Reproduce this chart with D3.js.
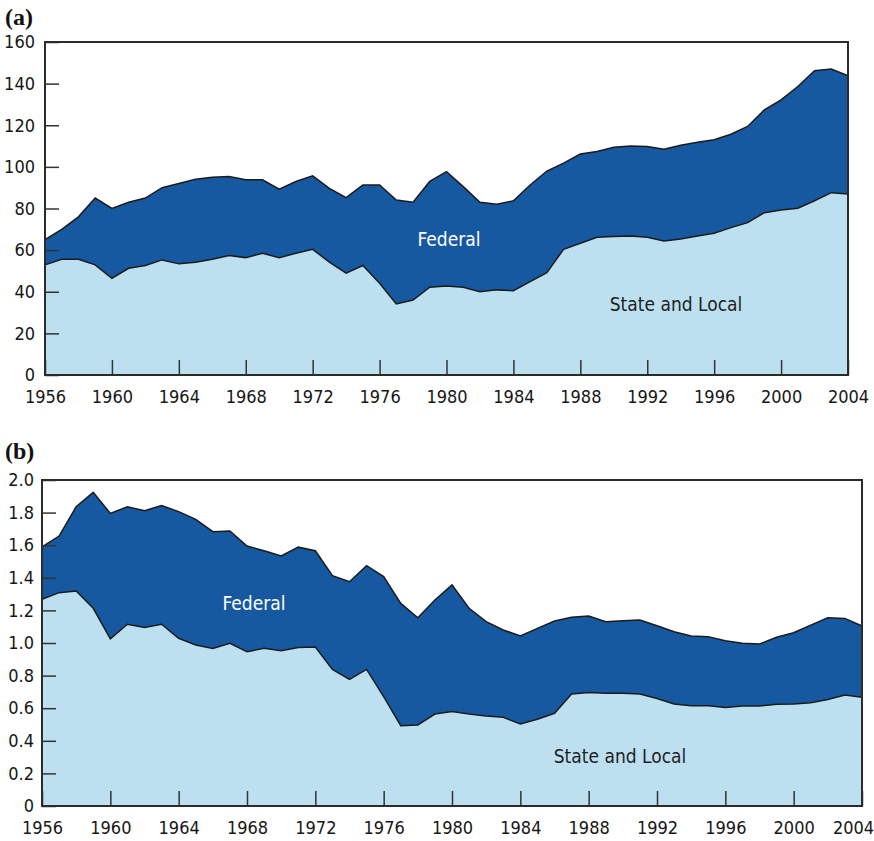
<!DOCTYPE html>
<html>
<head>
<meta charset="utf-8">
<script src="https://cdn.jsdelivr.net/npm/d3@7"></script>
<style>
  body { margin: 0; background: #fff; }
  .tick text { font-family: "Liberation Sans Narrow", "DejaVu Sans Condensed", sans-serif; fill: #161616; }
</style>
</head>
<body>
<script>
// years 1956 - 2004
var years = d3.range(1956, 2005)

// panel (a) - total (top of federal) and state and local
var totalA = [65, 70, 76, 85, 80, 83, 85, 90, 92, 94, 95, 95.4, 93.8, 93.8, 89.3, 93,
  95.7, 89.7, 85.2, 91.3, 91.3, 84.1, 83, 93, 97.7, 90.5, 83, 82, 83.7, 91.3, 98, 101.8,
  106.2, 107.4, 109.4, 110, 109.8, 108.5, 110.4, 111.8, 113, 115.7, 119.4, 127.4, 132.2,
  138.6, 146.2, 147, 143.8]
var stateA = [52.9, 55.6, 55.6, 52.9, 46.5, 51.3, 52.6, 55.3, 53.4, 54.2, 55.6, 57.4, 56.4,
  58.5, 56.4, 58.5, 60.4, 54.2, 48.9, 52.6, 44.1, 34.1, 36, 42.2, 42.8, 42.2, 40, 40.9,
  40.5, 44.9, 49.2, 60.4, 63.3, 66.2, 66.5, 66.8, 66.2, 64.4, 65.4, 66.8, 68.1, 70.8,
  73.2, 78, 79.3, 80.1, 83.7, 87.6, 87]

// panel (b)
var totalB = [1.59, 1.656, 1.836, 1.924, 1.795, 1.836, 1.812, 1.843, 1.806, 1.759, 1.683,
  1.687, 1.595, 1.566, 1.534, 1.588, 1.566, 1.413, 1.376, 1.474, 1.407, 1.243, 1.155,
  1.264, 1.356, 1.213, 1.131, 1.08, 1.043, 1.09, 1.135, 1.158, 1.166, 1.131, 1.137,
  1.141, 1.106, 1.069, 1.043, 1.039, 1.014, 0.998, 0.994, 1.035, 1.063, 1.11, 1.155,
  1.151, 1.104]
var stateB = [1.268, 1.309, 1.319, 1.213, 1.025, 1.115, 1.095, 1.115, 1.029, 0.988, 0.967,
  0.998, 0.947, 0.967, 0.953, 0.973, 0.975, 0.838, 0.777, 0.838, 0.671, 0.493, 0.497,
  0.564, 0.579, 0.564, 0.552, 0.544, 0.503, 0.532, 0.569, 0.687, 0.697, 0.691, 0.691,
  0.687, 0.66, 0.626, 0.615, 0.615, 0.605, 0.613, 0.613, 0.624, 0.626, 0.634, 0.654,
  0.681, 0.667]

// tick labels
var xTicks = d3.range(1956, 2005, 4)
var yTicksA = d3.range(0, 161, 20)
var yTicksB = d3.range(0, 2.01, 0.2)

var darkBlue = '#1659a0'
var lightBlue = '#bde0f1'
var font = '"Liberation Sans Narrow", "DejaVu Sans Condensed", sans-serif'

var svg = d3.select('body').append('svg')
  .attr('width', 874)
  .attr('height', 841)

const drawPanel = (p) => {
  let x = d3.scaleLinear().domain([1956, 2004]).range([p.left, p.right])
  let y = d3.scaleLinear().domain([0, p.max]).range([p.bottom, p.top])

  let g = svg.append('g')

  let area = d3.area()
    .x((d, i) => x(years[i]))
    .y0(p.bottom)
    .y1((d) => y(d))
  let line = d3.line()
    .x((d, i) => x(years[i]))
    .y((d) => y(d))

  g.append('path').datum(p.total).attr('d', area).attr('fill', darkBlue)
  g.append('path').datum(p.state).attr('d', area).attr('fill', lightBlue)
  g.append('path').datum(p.total).attr('d', line)
    .attr('fill', 'none').attr('stroke', '#1b1b1b').attr('stroke-width', 1.5)
  g.append('path').datum(p.state).attr('d', line)
    .attr('fill', 'none').attr('stroke', '#1b1b1b').attr('stroke-width', 1.5)

  // axes with inner ticks
  let xAxis = d3.axisBottom(x).tickValues(xTicks).tickFormat(d3.format('d'))
    .tickSizeInner(-15).tickSizeOuter(0).tickPadding(15)
  let yAxis = d3.axisLeft(y).tickValues(p.yTicks).tickFormat(p.fmt)
    .tickSizeInner(-14).tickSizeOuter(0).tickPadding(p.ypad)

  let gx = g.append('g').attr('transform', 'translate(0,' + p.bottom + ')').call(xAxis)
  let gy = g.append('g').attr('transform', 'translate(' + p.left + ',0)').call(yAxis)
  ;[gx, gy].forEach((a) => {
    a.select('.domain').remove()
    a.selectAll('.tick line').attr('stroke', '#333').attr('stroke-width', 1.5)
    a.selectAll('.tick text').style('font-size', '18px')
  })
  // last year label pulled in so it stays on the page
  if (p.lastShift) {
    gx.selectAll('.tick text').filter((d) => d === 2004).attr('x', p.lastShift)
  }

  // frame
  g.append('rect')
    .attr('x', p.left).attr('y', p.top)
    .attr('width', p.right - p.left).attr('height', p.bottom - p.top)
    .attr('fill', 'none').attr('stroke', '#2b2b2b').attr('stroke-width', 2)

  g.append('text').attr('x', p.fedX).attr('y', p.fedY)
    .attr('text-anchor', 'middle').attr('fill', '#fff')
    .style('font-family', font)
    .style('font-size', '19px').text('Federal')
  g.append('text').attr('x', p.slX).attr('y', p.slY)
    .attr('text-anchor', 'middle').attr('fill', '#1e1e1e')
    .style('font-family', font)
    .style('font-size', '19px').text('State and Local')

  g.append('text').attr('x', 5).attr('y', p.labelY)
    .attr('fill', '#111')
    .style('font-family', '"Liberation Serif", serif')
    .style('font-weight', 'bold').style('font-size', '24px')
    .text(p.label)
}

drawPanel({
  left: 45, right: 848, top: 42, bottom: 375, max: 160,
  total: totalA, state: stateA, yTicks: yTicksA, fmt: d3.format('d'), ypad: 10,
  fedX: 449, fedY: 246, slX: 676, slY: 311, label: '(a)', labelY: 25
})

drawPanel({
  left: 42, right: 862, top: 480, bottom: 806, max: 2.0,
  total: totalB, state: stateB, yTicks: yTicksB,
  fmt: (d) => d === 0 ? '0' : d3.format('.1f')(d), ypad: 8,
  fedX: 254, fedY: 610, slX: 620, slY: 763, label: '(b)', labelY: 459,
  lastShift: -9
})
</script>
</body>
</html>
